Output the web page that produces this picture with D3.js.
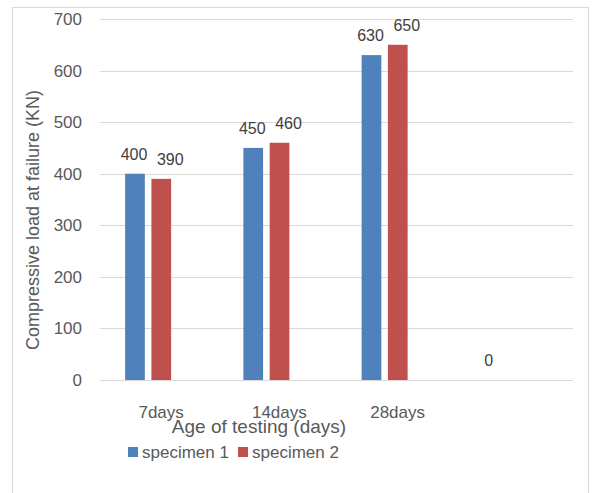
<!DOCTYPE html>
<html><head><meta charset="utf-8">
<script src="https://cdn.jsdelivr.net/npm/d3@7"></script>
<style>body{margin:0;background:#fff;} svg{display:block;font-family:"Liberation Sans",Arial,sans-serif;}</style>
</head><body>
<script>
const categories = ["7days", "14days", "28days", ""];
const seriesNames = ["specimen 1", "specimen 2"];
const specimen1 = [400, 450, 630, 0];
const specimen2 = [390, 460, 650, null];
const yTicks = [0, 100, 200, 300, 400, 500, 600, 700];
const colors = ["#4F81BD", "#C0504D"];

const W = 592, H = 493;
const plotL = 100, plotR = 573, plotT = 19, plotB = 380;
const svg = d3.select("body").append("svg").attr("width", W).attr("height", H);

svg.append("rect").attr("x", 12.5).attr("y", 7.5).attr("width", 576).attr("height", 495)
  .attr("fill", "#fff").attr("stroke", "#d9d9d9");

const x = d3.scaleBand().domain(categories).range([plotL, plotR]);
const y = d3.scaleLinear().domain([0, 700]).range([plotB, plotT]);
const groupShift = -11;
const x1 = d3.scaleBand().domain(seriesNames).range([-23, 23]).paddingInner(0.25);

// gridlines
svg.append("g").selectAll("line").data(yTicks).join("line")
  .attr("x1", plotL).attr("x2", plotR)
  .attr("y1", d => Math.round(y(d)) + 0.5).attr("y2", d => Math.round(y(d)) + 0.5)
  .attr("stroke", "#d9d9d9").attr("stroke-width", 1);

// y tick labels
svg.append("g").selectAll("text").data(yTicks).join("text")
  .attr("x", 82).attr("y", d => y(d)).attr("dy", "0.35em")
  .attr("text-anchor", "end").attr("font-size", 17).attr("fill", "#595959")
  .text(d => d);

// bars
const rows = categories.map((c, i) => ({cat: c, vals: [specimen1[i], specimen2[i]]}));
const g = svg.append("g").selectAll("g").data(rows).join("g")
  .attr("transform", d => `translate(${x(d.cat) + x.bandwidth() / 2 + groupShift},0)`);
g.selectAll("rect").data(d => d.vals.map((v, j) => ({v, s: seriesNames[j], j})).filter(e => e.v !== null))
  .join("rect")
  .attr("x", e => x1(e.s)).attr("width", x1.bandwidth())
  .attr("y", e => y(e.v)).attr("height", e => y(0) - y(e.v))
  .attr("fill", e => colors[e.j]);
const labelDx = [-1, 9];
g.selectAll("text").data(d => d.vals.map((v, j) => ({v, s: seriesNames[j], j})).filter(e => e.v !== null))
  .join("text")
  .attr("x", e => x1(e.s) + x1.bandwidth() / 2 + labelDx[e.j])
  .attr("y", e => y(e.v) - 14)
  .attr("text-anchor", "middle").attr("font-size", 16).attr("fill", "#404040")
  .text(e => e.v);

// category labels
svg.append("g").selectAll("text").data(categories).join("text")
  .attr("x", d => x(d) + x.bandwidth() / 2 + 2).attr("y", 418)
  .attr("text-anchor", "middle").attr("font-size", 17).attr("fill", "#595959")
  .text(d => d);

// axis titles
svg.append("text").attr("x", 259).attr("y", 433).attr("text-anchor", "middle")
  .attr("font-size", 19).attr("fill", "#595959").text("Age of testing (days)");
svg.append("text").attr("transform", "translate(39,220) rotate(-90)")
  .attr("text-anchor", "middle").attr("font-size", 18).attr("fill", "#595959")
  .text("Compressive load at failure (KN)");

// legend
const lg = svg.append("g").attr("transform", "translate(128,447)");
const items = lg.selectAll("g").data(seriesNames).join("g")
  .attr("transform", (d, i) => `translate(${i * 110},0)`);
items.append("rect").attr("width", 10).attr("height", 10).attr("fill", (d, i) => colors[i]);
items.append("text").attr("x", 14).attr("y", 10.5).attr("font-size", 17).attr("fill", "#595959").text(d => d);
</script>
</body></html>
